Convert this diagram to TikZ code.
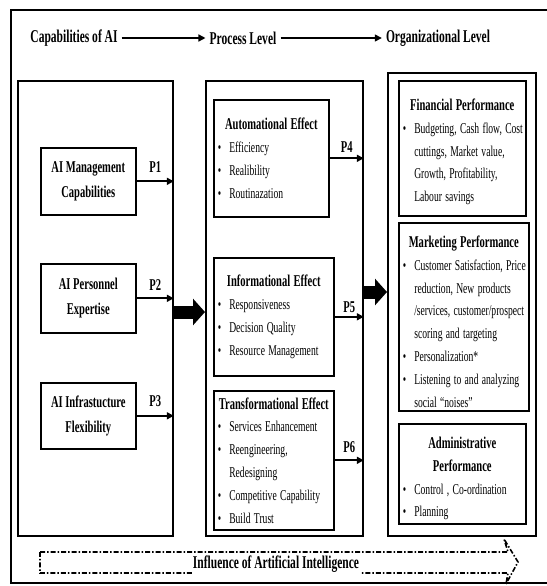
\documentclass[tikz,border=0pt]{standalone}
\usepackage{fontspec}
\setmainfont{Liberation Serif}[FakeStretch=0.64]
\usetikzlibrary{arrows.meta}
\newcommand{\ttlfont}{\fontsize{16.5pt}{23pt}\selectfont\bfseries}
\newcommand{\bdyfont}{\fontsize{15pt}{22.8pt}\selectfont}
\newcommand{\hdrfont}{\fontsize{18pt}{20pt}\selectfont\bfseries}
\newcommand{\bitem}[1]{\par\noindent\makebox[11.5pt][l]{\textbullet}\mbox{#1}}
\newcommand{\bcont}[1]{\par\noindent\hspace*{11.5pt}\mbox{#1}}
\newcommand{\btitle}[2][0pt]{{\centering\ttlfont\rule{0pt}{#1}#2\par}\bdyfont}
\tikzset{
  panel/.style={draw, line width=1.8pt, anchor=north west, inner sep=0pt},
  ibox/.style={draw, line width=1.6pt, anchor=north west, inner xsep=4pt, inner ysep=0pt},
  lbox/.style={draw, line width=1.6pt, anchor=north west, align=center, font=\ttlfont, inner sep=0pt},
  hdr/.style={font=\hdrfont, inner sep=4pt},
  harrow/.style={line width=1.4pt, -{Triangle[length=7pt,width=7pt]}},
  parrow/.style={line width=1.8pt, -{Triangle[length=7pt,width=7pt]}},
  plbl/.style={font=\ttlfont, inner sep=0pt},
  bigarrow/.style={line width=13pt, -{Triangle[length=12pt,width=26pt]}},
  infl/.style={line width=1.6pt, dash pattern=on 5pt off 2pt on 1.5pt off 2pt},
}
\begin{document}
\begin{tikzpicture}[x=1pt,y=-1pt]
\useasboundingbox (0,0) rectangle (546,586);
% outer frame (right side runs off the picture)
\draw[line width=1.3pt] (560,10) -- (11,10) -- (11,583) -- (560,583);

% header
\node[hdr] (cap) at (74,38) {Capabilities of AI};
\node[hdr] (proc) at (243,38) {Process Level};
\node[hdr] (org) at (438,38) {Organizational Level};
\draw[harrow] (cap) -- (proc);
\draw[harrow] (proc) -- (org);

% panels
\node[panel, minimum width=155pt, minimum height=455pt] (L) at (17,80) {};
\node[panel, minimum width=157pt, minimum height=455pt] (M) at (205,80) {};
\node[panel, minimum width=148pt, minimum height=463pt] (R) at (387,72) {};

% left boxes
\node[lbox, minimum width=95pt, minimum height=67pt] (m1) at (40,147) {AI Management\\[2pt]Capabilities};
\node[lbox, minimum width=95pt, minimum height=69pt] (m2) at (40,263) {AI Personnel\\[2pt]Expertise};
\node[lbox, minimum width=95pt, minimum height=66pt] (m3) at (40,382) {AI Infrastucture\\[2pt]Flexibility};

\draw[parrow] (m1.east) -- (m1.east -| L.east) node[midway, above=8pt, plbl] {P1};
\draw[parrow] (m2.east) -- (m2.east -| L.east) node[midway, above=7pt, plbl] {P2};
\draw[parrow] (m3.east) -- (m3.east -| L.east) node[midway, above=8pt, plbl] {P3};

% middle boxes
\node[ibox, text width=107pt, minimum height=117pt] (e1) at (213,99) {%
  \btitle{Automational Effect}%
  \bitem{Efficiency}\bitem{Realibility}\bitem{Routinazation}\par};
\node[ibox, text width=112pt, minimum height=118pt] (e2) at (213,257) {%
  \btitle{Informational Effect}%
  \bitem{Responsiveness}\bitem{Decision Quality}\bitem{Resource Management}\par};
\node[ibox, text width=112pt, minimum height=139pt] (e3) at (213,390) {%
  \btitle{Transformational Effect}%
  \bitem{Services Enhancement}\bitem{Reengineering,}\bcont{Redesigning}%
  \bitem{Competitive Capability}\bitem{Build Trust}\par};

\draw[parrow] (e1.east) -- (e1.east -| M.east) node[midway, above=5pt, plbl] {P4};
\draw[parrow] (e2.east) -- (e2.east -| M.east) node[midway, above=3pt, plbl] {P5};
\draw[parrow] (e3.east) -- (e3.east -| M.east) node[midway, above=7pt, plbl] {P6};

% right boxes
\node[ibox, text width=119pt, minimum height=135pt] (o1) at (398,80) {%
  \btitle[19pt]{Financial Performance}%
  \bitem{Budgeting, Cash flow, Cost}\bcont{cuttings, Market value,}%
  \bcont{Growth, Profitability,}\bcont{Labour savings}\par};
\node[ibox, text width=122pt, minimum height=188pt] (o2) at (398,222) {%
  \btitle[21pt]{Marketing Performance}%
  \bitem{Customer Satisfaction, Price}\bcont{reduction, New products}%
  \bcont{/services, customer/prospect}\bcont{scoring and targeting}%
  \bitem{Personalization*}\bitem{Listening to and analyzing}%
  \bcont{social “noises”}\par};
\node[ibox, text width=119pt, minimum height=100pt] (o3) at (398,423) {%
  \btitle[21pt]{Administrative\par Performance}%
  \bitem{Control , Co-ordination}\bitem{Planning}\par};

% thick arrows
\coordinate (y1) at (0,312);
\coordinate (y2) at (0,292);
\draw[bigarrow] (y1 -| L.east) -- (y1 -| M.west);
\draw[bigarrow] (y2 -| M.east) -- (y2 -| R.west);

% influence arrow
\draw[infl] (40,552) -- (508,552) -- (504,539) -- (518,562) -- (506,584) -- (508,573) -- (40,573) -- cycle;
\node[font=\hdrfont, fill=white, inner xsep=1pt, inner ysep=2pt] (inf) at (276,564) {Influence of Artificial Intelligence};
\end{tikzpicture}
\end{document}
